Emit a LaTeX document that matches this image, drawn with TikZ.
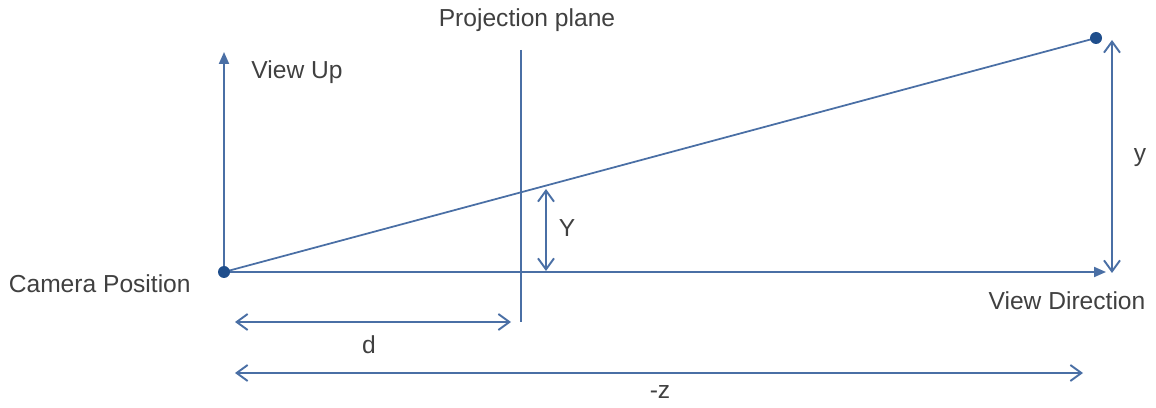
\documentclass[tikz,border=0pt]{standalone}
\usepackage{fontspec}
\setmainfont{Liberation Sans}
\usetikzlibrary{arrows.meta}
\definecolor{lineblue}{HTML}{4A6FA5}
\definecolor{dotblue}{HTML}{1F4E8C}
\definecolor{labelgray}{HTML}{404040}
\tikzset{
  axis/.style={draw=lineblue, line width=1.1pt, -{Triangle[length=0.24cm, width=0.2cm]}},
  dim/.style={draw=lineblue, line width=1.1pt, {Straight Barb[length=0.22cm, width=0.32cm]}-{Straight Barb[length=0.22cm, width=0.32cm]}},
  ray/.style={draw=lineblue, line width=1pt},
  label/.style={text=labelgray, font=\fontsize{14}{16}\selectfont, inner sep=0pt}
}

\begin{document}
\begin{tikzpicture}[x=0.02cm, y=-0.02cm]
				\useasboundingbox (0,0) rectangle (1156,408);
				% Define coordinates
				\coordinate (C) at (224,272);
				\coordinate (U) at (224,52);
				\coordinate (V) at (1106,272);
				\coordinate (P) at (1096,38);
				\coordinate (PT) at (521,50);
				\coordinate (PB) at (521,322);
				
				% Axes and ray
				\draw[axis] (C) -- (U);
				\draw[axis] (C) -- (V);
				\draw[ray] (C) -- (P);
				\draw[ray] (PT) -- (PB);
				\fill[dotblue] (C) circle (6);
				\fill[dotblue] (P) circle (6);
				
				% Dimension arrows
				\coordinate (YT) at (546,189);
				\coordinate (YB) at (546,271);
				\coordinate (yT) at (1112,40);
				\coordinate (yB) at (1112,273);
				\coordinate (dL) at (235,322);
				\coordinate (dR) at (511,322);
				\coordinate (zL) at (235,373);
				\coordinate (zR) at (1083,373);
				\draw[dim] (YT) -- (YB);
				\draw[dim] (yT) -- (yB);
				\draw[dim] (dL) -- (dR);
				\draw[dim] (zL) -- (zR);
				
				% Labels
				\node[label] (plane) at (527,20) {Projection plane};
				\node[label] (up) at (297,72) {View Up};
				\node[label, anchor=east] (cam) at (191,284) {Camera Position};
				\node[label] (dir) at (1067,301) {View Direction};
				\node[label] (bigY) at (567,228) {Y};
				\node[label] (smally) at (1140,158) {y};
				\node[label] (dist) at (369,345) {d};
				\node[label] (negz) at (660,392) {-z};
			\end{tikzpicture}
\end{document}
